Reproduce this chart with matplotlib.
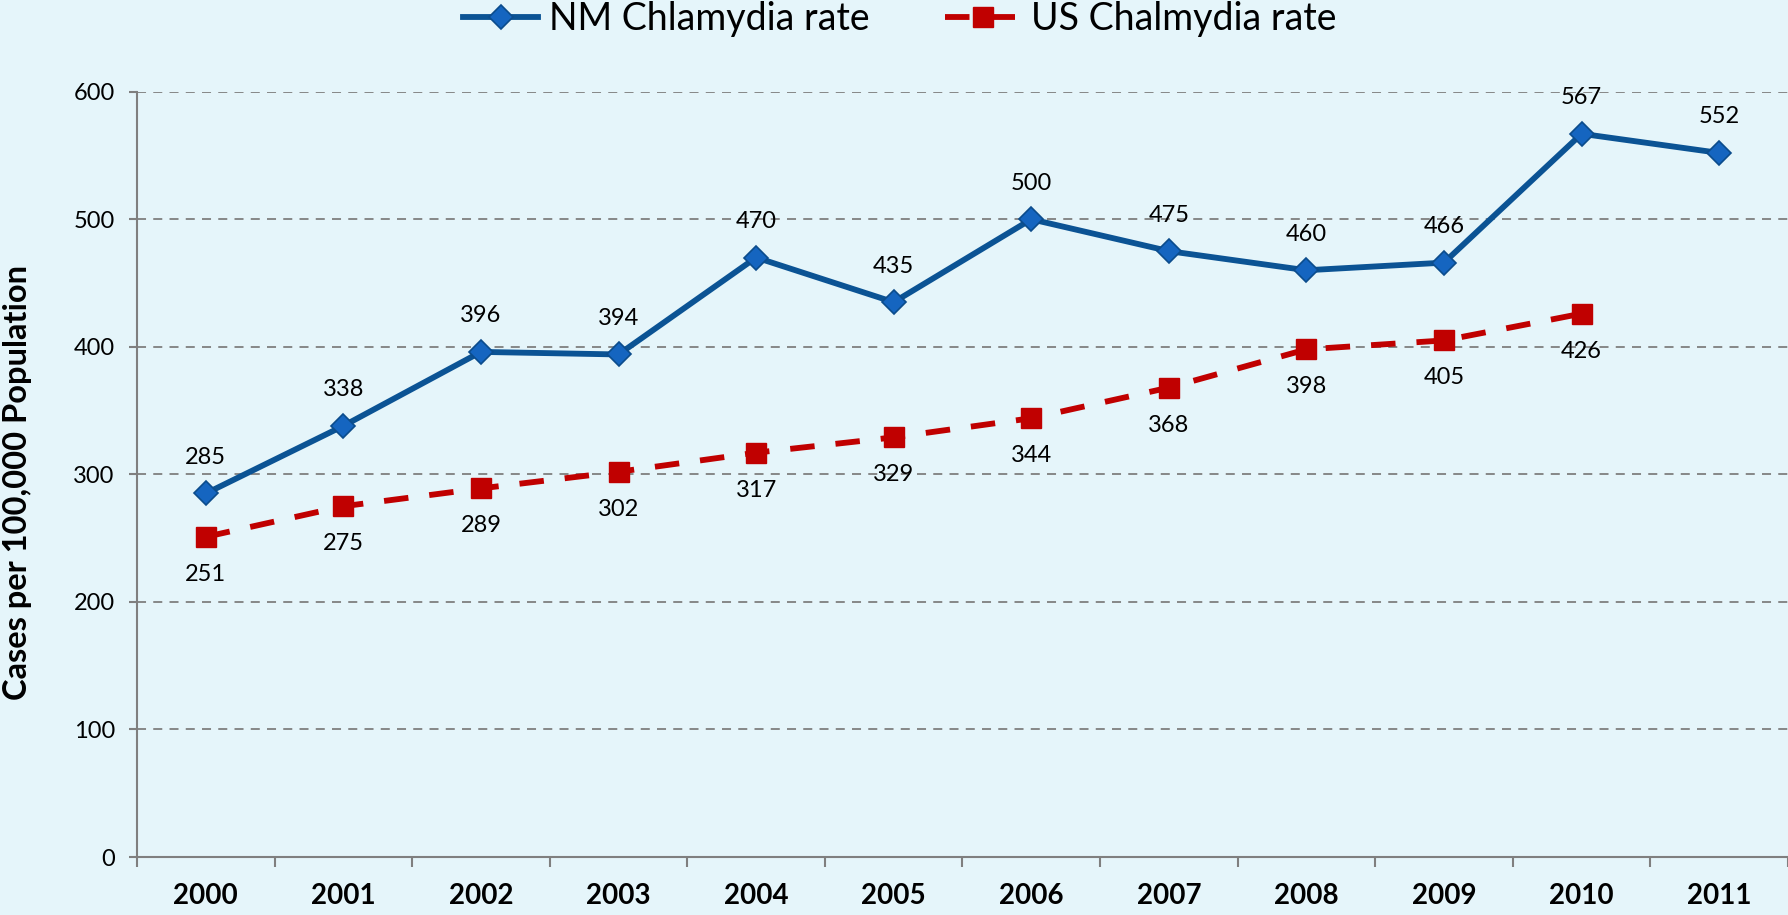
import matplotlib
matplotlib.use("Agg")
import matplotlib.pyplot as plt
import numpy as np

years = ["2000", "2001", "2002", "2003", "2004", "2005", "2006", "2007", "2008", "2009", "2010", "2011"]
nm_rate = [285, 338, 396, 394, 470, 435, 500, 475, 460, 466, 567, 552]
us_years = ["2000", "2001", "2002", "2003", "2004", "2005", "2006", "2007", "2008", "2009", "2010"]
us_rate = [251, 275, 289, 302, 317, 329, 344, 368, 398, 405, 426]
yticks = [0, 100, 200, 300, 400, 500, 600]

plt.rcParams['font.family'] = ['Lato', 'DejaVu Sans']

BG = "#E5F5FA"
W, H = 1788, 915
fig = plt.figure(figsize=(W / 100, H / 100), dpi=100, facecolor=BG)
ax = fig.add_axes([137 / W, (H - 857) / H, 1 - 137 / W, (857 - 91.7) / H])
ax.set_facecolor(BG)

x_nm = np.arange(len(years))
x_us = np.arange(len(us_years))

l1, = ax.plot(x_nm, nm_rate, color="#0B5394", lw=4.2, marker="D", markersize=12,
              markerfacecolor="#1565C0", markeredgecolor="#0B4C8C", markeredgewidth=1.2,
              label="NM Chlamydia rate", clip_on=False, zorder=4)
l2, = ax.plot(x_us, us_rate, color="#C00000", lw=4.2, dashes=(4.2, 3.6), marker="s", markersize=14,
              markerfacecolor="#C00000", markeredgecolor="#C00000",
              label="US Chalmydia rate", clip_on=False, zorder=3)

for xi, v in zip(x_nm, nm_rate):
    ax.annotate(str(v), (xi, v), xytext=(0, 26), textcoords="offset points",
                ha="center", va="center", fontsize=17, color="black", annotation_clip=False)
for xi, v in zip(x_us, us_rate):
    ax.annotate(str(v), (xi, v), xytext=(0, -27), textcoords="offset points",
                ha="center", va="center", fontsize=17, color="black", annotation_clip=False)

ax.set_xlim(-0.5, len(years) - 0.5)
ax.set_ylim(0, 600)
ax.set_yticks(yticks)
ax.set_yticklabels([str(t) for t in yticks], fontsize=17)
ax.set_xticks(x_nm)
ax.set_xticklabels(years, fontsize=20, fontweight="bold")
ax.set_xticks(np.arange(-0.5, len(years) + 0.5, 1), minor=True)
ax.tick_params(axis="x", which="major", length=0, pad=19)
ax.tick_params(axis="x", which="minor", length=7.5, width=1.5, color="#7F7F7F", direction="out")
ax.tick_params(axis="y", which="major", length=6, width=1.5, color="#7F7F7F", pad=10)

ax.yaxis.grid(True, color="#7F7F7F", lw=1.3, linestyle=(0, (5, 4)))
ax.set_axisbelow(True)
for s in ["top", "right"]:
    ax.spines[s].set_visible(False)
for s in ["left", "bottom"]:
    ax.spines[s].set_color("#7F7F7F")
    ax.spines[s].set_linewidth(1.5)

fig.text(18 / W, 1 - 482 / H, "Cases per 100,000 Population", rotation=90, ha="center", va="center",
         fontsize=23.5, fontweight="bold")

fig.legend(handles=[l1, l2], loc="center", bbox_to_anchor=(900 / W, 1 - 19 / H), ncol=2,
           frameon=False, fontsize=27, handlelength=2.0, columnspacing=2.0, handletextpad=0.3,
           borderaxespad=0)

fig.savefig("out.png", dpi=100, facecolor=BG)
